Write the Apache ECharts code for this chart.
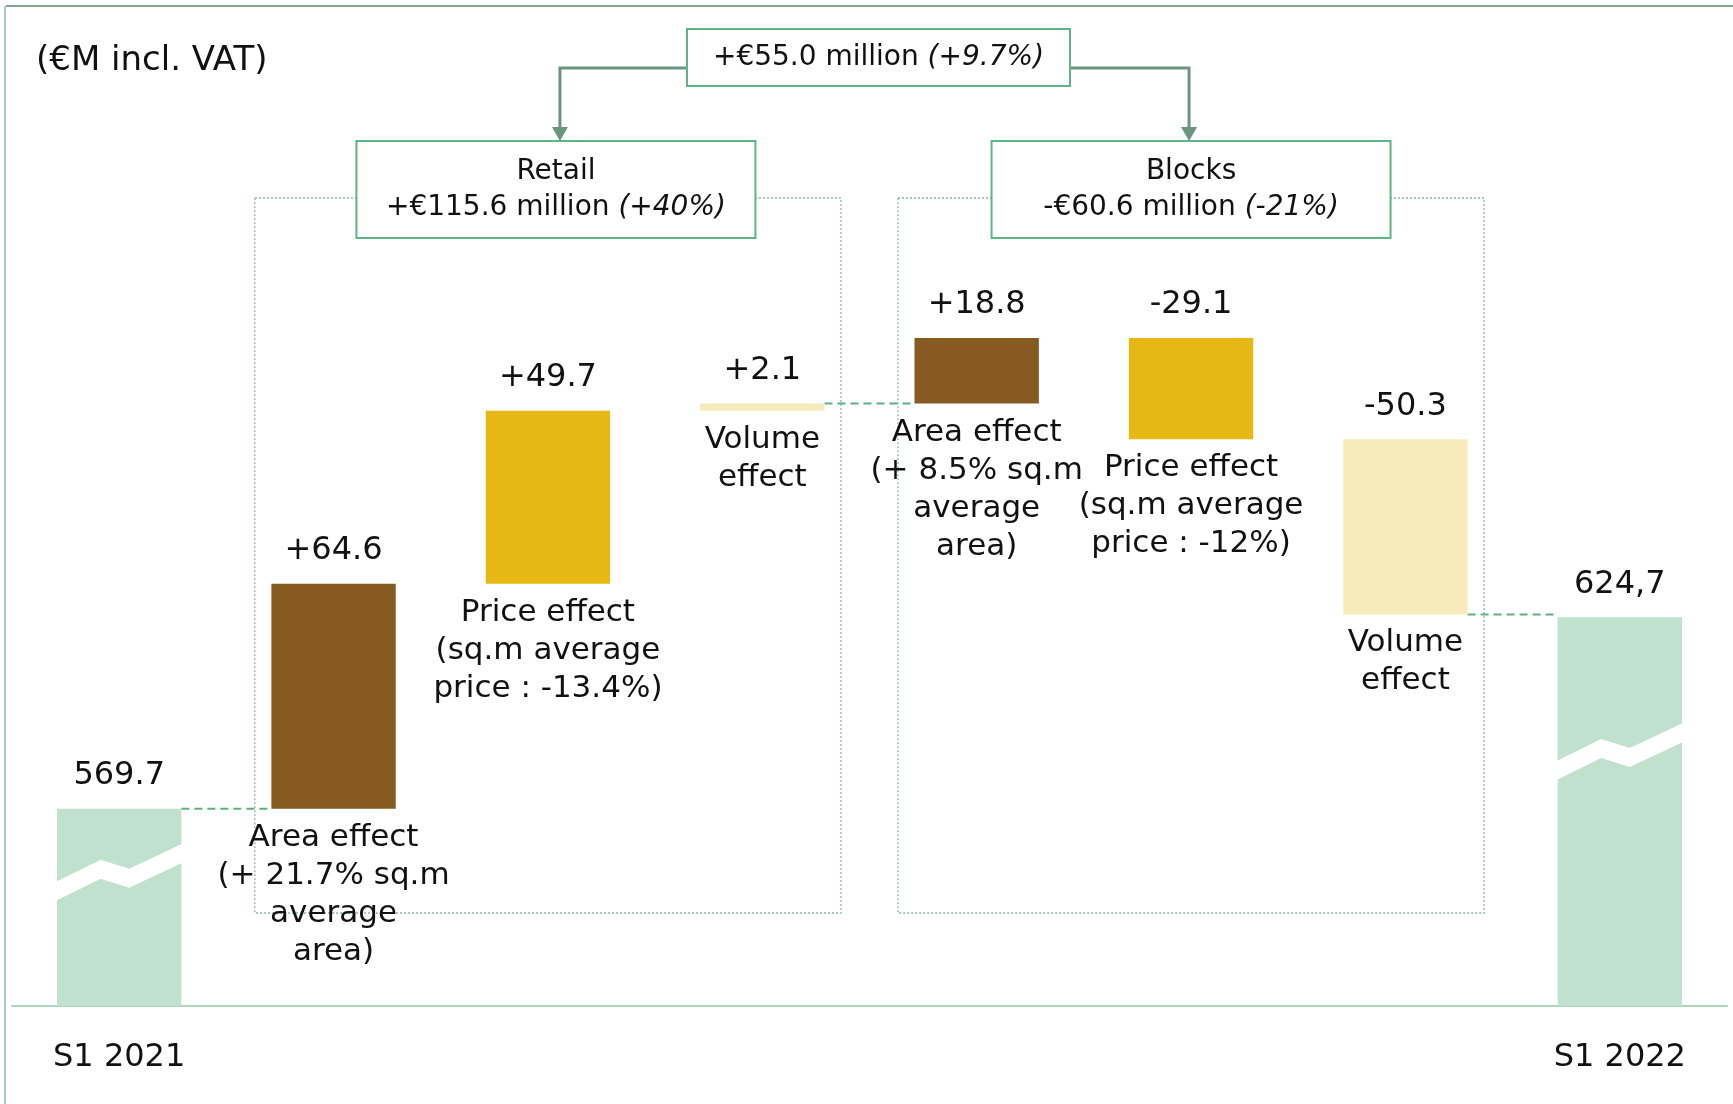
<!DOCTYPE html>
<html><head><meta charset="utf-8">
<script src="https://cdn.jsdelivr.net/npm/echarts@6/dist/echarts.min.js"></script>
<style>html,body{margin:0;padding:0;background:#fff}#c{width:1733px;height:1104px}</style>
</head><body><div id="c"></div>
<script>
// ---- data ----
const categories = ['S1 2021','Retail area','Retail price','Retail volume','Blocks area','Blocks price','Blocks volume','S1 2022'];
const axisLabels = ['S1 2021','','','','','','','S1 2022'];
const startValue = 569.7;
const endValue = 624.7;
const retailEffects = [64.6, 49.7, 2.1];
const blocksEffects = [18.8, -29.1, -50.3];
const valueLabels = ['569.7','+64.6','+49.7','+2.1','+18.8','-29.1','-50.3','624,7'];
const effectLabels = ['', 'Area effect\n(+ 21.7% sq.m\naverage\narea)', 'Price effect\n(sq.m average\nprice : -13.4%)', 'Volume\neffect',
  'Area effect\n(+ 8.5% sq.m\naverage\narea)', 'Price effect\n(sq.m average\nprice : -12%)', 'Volume\neffect', ''];
const effectKinds = ['total','area','price','volume','area','price','volume','total'];
const unitLabel = '(€M incl. VAT)';
const groupNames = ['Retail','Blocks'];
const groupChange = ['+€115.6 million ','-€60.6 million '];
const groupPct = ['(+40%)','(-21%)'];
const totalChange = '+€55.0 million ';
const totalPct = '(+9.7%)';

// ---- styles ----
const AXIS_MIN = 513, AXIS_MAX = 800;
const FONT = '"DejaVu Sans", sans-serif';
const kindColors = {total:'#C1E1CF', area:'#875A22', price:'#E6B813', volume:'#F8EBBB'};

// ---- waterfall build ----
const bars = [[0, AXIS_MIN, startValue]];
let run = startValue;
const effects = retailEffects.concat(blocksEffects);
const connectors = [[0, startValue]];
effects.forEach((d, k) => {
  bars.push([k + 1, Math.min(run, run + d), Math.max(run, run + d)]);
  run += d;
  if (k === retailEffects.length - 1) connectors.push([k + 1, run]);
});
connectors.push([effects.length, run]);
bars.push([7, AXIS_MIN, endValue]);

const BAR_RATIO = 0.58;

function renderBar(params, api) {
  const idx = api.value(0), lo = api.value(1), hi = api.value(2);
  const pTop = api.coord([idx, hi]), pBot = api.coord([idx, lo]);
  const w = api.size([1, 0])[0] * BAR_RATIO;
  const x0 = pTop[0] - w / 2;
  const kind = effectKinds[idx];
  const children = [{type:'rect', shape:{x:x0, y:pTop[1], width:w, height:Math.max(pBot[1]-pTop[1],1)}, style:{fill:kindColors[kind]}}];
  if (kind === 'total') {
    const h = pBot[1] - pTop[1];
    const by = pBot[1] - 0.63 * h;
    const t = 19;
    const top = [[x0-1, by], [x0+0.35*w, by-22], [x0+0.58*w, by-13], [x0+w+1, by-38]];
    const pts = top.concat(top.slice().reverse().map(p => [p[0], p[1] + t]));
    children.push({type:'polygon', shape:{points:pts}, style:{fill:'#fff'}});
  }
  children.push({type:'text', style:{text:valueLabels[idx], x:pTop[0], y:pTop[1]-33, align:'center', verticalAlign:'middle',
    fontSize:32, fontFamily:FONT, fill:'#111'}});
  if (effectLabels[idx]) {
    children.push({type:'text', style:{text:effectLabels[idx], x:pTop[0], y:pBot[1]+10, align:'center', verticalAlign:'top',
      fontSize:31, fontFamily:FONT, lineHeight:38, fill:'#111'}});
  }
  return {type:'group', children};
}

function renderConnector(params, api) {
  const idx = api.value(0), v = api.value(1);
  const p1 = api.coord([idx, v]), p2 = api.coord([idx + 1, v]);
  const hw = api.size([1, 0])[0] * BAR_RATIO / 2;
  return {type:'line', shape:{x1:p1[0]+hw, y1:p1[1], x2:p2[0]-hw, y2:p2[1]},
    style:{stroke:'#5BB381', lineWidth:2, lineDash:[8,5]}};
}

const chart = echarts.init(document.getElementById('c'), null, {renderer:'canvas'});
const option = {
  animation:false,
  backgroundColor:'#fff',
  grid:{left:12, right:6, top:7, bottom:98},
  xAxis:{type:'category', data:categories,
    axisTick:{show:false},
    axisLine:{lineStyle:{color:'#A9D6BB', width:2}},
    axisLabel:{interval:0, margin:36, fontSize:32, fontFamily:FONT, color:'#111', formatter:(v, i) => axisLabels[i]}},
  yAxis:{type:'value', min:AXIS_MIN, max:AXIS_MAX, show:false, splitLine:{show:false}},
  series:[
    {type:'custom', name:'connectors', renderItem:renderConnector, data:connectors, z:1, encode:{x:0, y:1}},
    {type:'custom', name:'bars', renderItem:renderBar, data:bars, z:2, encode:{x:0, y:[1,2]}}
  ]
};
chart.setOption(option);

// ---- annotations ----
const px = (i) => chart.convertToPixel({gridIndex:0}, [i, 700])[0];
const band = px(1) - px(0);
const gCenters = [px(2), px(5)];
const headerShift = [8, 0];
const graphics = [];
// frame
graphics.push({type:'line', shape:{x1:6, y1:6, x2:1733, y2:6}, style:{stroke:'#7FA892', lineWidth:2}, z:0});
graphics.push({type:'line', shape:{x1:5, y1:6, x2:5, y2:1104}, style:{stroke:'#A9CDB8', lineWidth:2}, z:0});
// unit label
graphics.push({type:'text', style:{text:unitLabel, x:36, y:61, align:'left', verticalAlign:'middle', fontSize:34, fontFamily:FONT, fill:'#111'}, z:5});
// group dotted boxes
gCenters.forEach((cx) => {
  const hw = band * 1.367;
  graphics.push({type:'rect', shape:{x:cx-hw, y:198, width:2*hw, height:715},
    style:{fill:'none', stroke:'#8DB3A4', lineWidth:1.3, lineDash:[2,2]}, z:0});
});
// group header boxes
const BW = 399, BH = 97, BY = 141;
const hCenters = gCenters.map((c, g) => c + headerShift[g]);
hCenters.forEach((cx, g) => {
  graphics.push({type:'rect', shape:{x:cx-BW/2, y:BY, width:BW, height:BH},
    style:{fill:'#fff', stroke:'#5DB585', lineWidth:2}, z:10});
  graphics.push({type:'text', z:11, style:{text:groupNames[g] + '\n' + groupChange[g] + '{i|' + groupPct[g] + '}',
    x:cx, y:BY+BH/2, align:'center', verticalAlign:'middle', fontSize:28, fontFamily:FONT, fill:'#111', lineHeight:36,
    rich:{i:{fontStyle:'italic', fontSize:28, fontFamily:FONT, fill:'#111', lineHeight:36}}}});
});
// top box
const TW = 383, TH = 57, TY = 29;
const tcx = (gCenters[0] + gCenters[1]) / 2 + 9;
graphics.push({type:'rect', shape:{x:tcx-TW/2, y:TY, width:TW, height:TH}, style:{fill:'#fff', stroke:'#5DB585', lineWidth:2}, z:10});
graphics.push({type:'text', z:11, style:{text:totalChange + '{i|' + totalPct + '}', x:tcx, y:TY+TH/2, align:'center', verticalAlign:'middle',
  fontSize:28, fontFamily:FONT, fill:'#111', rich:{i:{fontStyle:'italic', fontSize:28, fontFamily:FONT, fill:'#111'}}}});
// arrows
const AY = 68;
[[tcx - TW/2, hCenters[0] + 4], [tcx + TW/2, hCenters[1] - 2]].forEach(([sx, ex]) => {
  graphics.push({type:'polyline', shape:{points:[[sx, AY], [ex, AY], [ex, BY-12]]}, style:{stroke:'#6A9580', lineWidth:3, fill:'none'}, z:9});
  graphics.push({type:'polygon', shape:{points:[[ex-8, BY-14], [ex+8, BY-14], [ex, BY]]}, style:{fill:'#6A9580'}, z:9});
});
chart.setOption({graphic:graphics});
</script>
</body></html>
